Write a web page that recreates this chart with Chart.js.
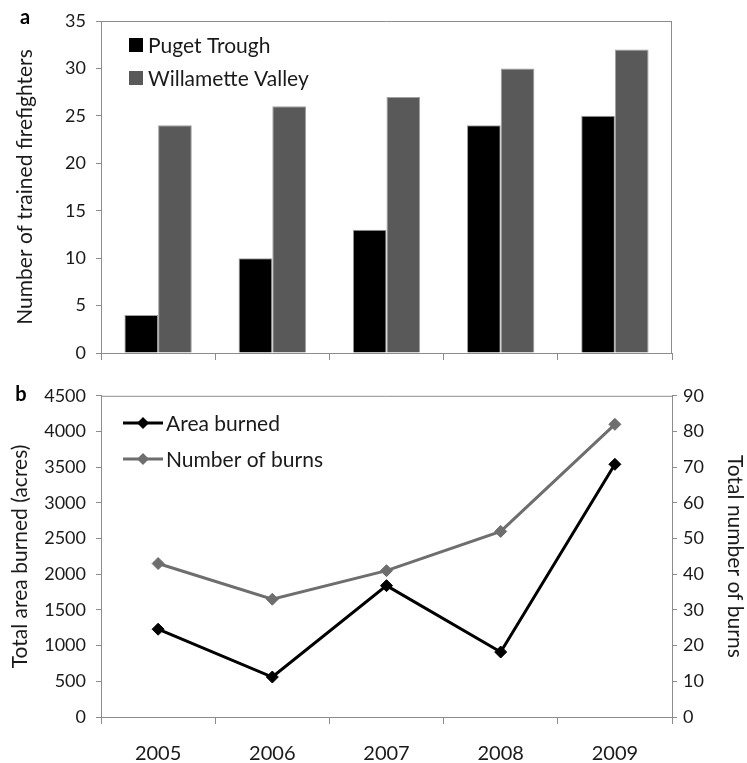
<!DOCTYPE html>
<html>
<head>
<meta charset="utf-8">
<script src="https://cdn.jsdelivr.net/npm/chart.js@4.4.1/dist/chart.umd.min.js"></script>
<style>
  html, body { margin: 0; padding: 0; background: #fff; }
  #wrapA { position: absolute; left: 0; top: 0; width: 747px; height: 375px; }
  #wrapB { position: absolute; left: 0; top: 375px; width: 747px; height: 388px; }
</style>
</head>
<body>
<div id="wrapA"><canvas id="chartA" width="747" height="375"></canvas></div>
<div id="wrapB"><canvas id="chartB" width="747" height="388"></canvas></div>
<script>
// ---- Data ----
const years = ['2005', '2006', '2007', '2008', '2009'];
const pugetTrough = [4, 10, 13, 24, 25];
const willametteValley = [24, 26, 27, 30, 32];
const areaBurned = [1230, 560, 1840, 910, 3540];
const numberOfBurns = [43, 33, 41, 52, 82];
const firefighterTicks = { min: 0, max: 35, step: 5 };
const areaTicks = { min: 0, max: 4500, step: 500 };
const burnsTicks = { min: 0, max: 90, step: 10 };

const FONT = 'Lato, "Open Sans", "Liberation Sans", sans-serif';
const AXIS = '#8c8c8c';
Chart.defaults.font.family = FONT;
Chart.defaults.color = '#1a1a1a';
Chart.defaults.animation = false;
Chart.defaults.devicePixelRatio = 1;

const plainNumber = (v) => String(v);

// Draws frame lines (top / right) and panel letter, plus custom legend
const decorPlugin = {
  id: 'decor',
  afterDatasetsDraw(chart, args, opts) {
    const ctx = chart.ctx;
    const a = chart.chartArea;
    ctx.save();
    ctx.strokeStyle = AXIS;
    ctx.lineWidth = 1;
    ctx.beginPath();
    ctx.moveTo(a.left, a.top + 0.5);
    ctx.lineTo(a.right, a.top + 0.5);
    if (opts.rightLine) {
      ctx.moveTo(a.right - 0.5, a.top);
      ctx.lineTo(a.right - 0.5, a.bottom);
    }
    ctx.stroke();
    // panel letter
    ctx.fillStyle = '#000';
    ctx.font = 'bold 20px ' + FONT;
    ctx.textAlign = 'center';
    ctx.textBaseline = 'middle';
    ctx.fillText(opts.letter, opts.letterX, opts.letterY);
    // legend
    ctx.font = '21px ' + FONT;
    ctx.textAlign = 'left';
    chart.data.datasets.forEach((ds, i) => {
      const y = opts.legY + i * opts.legGap;
      const x = opts.legX;
      if (opts.kind === 'box') {
        ctx.fillStyle = ds.backgroundColor;
        ctx.fillRect(x, y - 7, 14, 14);
        ctx.fillStyle = '#1a1a1a';
        ctx.fillText(ds.label, x + 19, y + 1);
      } else {
        ctx.strokeStyle = ds.borderColor;
        ctx.lineWidth = 3;
        ctx.beginPath();
        ctx.moveTo(x, y);
        ctx.lineTo(x + 40, y);
        ctx.stroke();
        ctx.fillStyle = ds.borderColor;
        ctx.beginPath();
        ctx.moveTo(x + 20, y - 6);
        ctx.lineTo(x + 26, y);
        ctx.lineTo(x + 20, y + 6);
        ctx.lineTo(x + 14, y);
        ctx.closePath();
        ctx.fill();
        ctx.fillStyle = '#1a1a1a';
        ctx.fillText(ds.label, x + 43, y + 1);
      }
    });
    ctx.restore();
  }
};

const tickFont = { size: 18, family: FONT };
const titleFont = { size: 21, family: FONT };

new Chart(document.getElementById('chartA'), {
  type: 'bar',
  data: {
    labels: years,
    datasets: [
      { label: 'Puget Trough', data: pugetTrough, backgroundColor: '#000000', borderColor: '#a0a0a0', borderWidth: 1 },
      { label: 'Willamette Valley', data: willametteValley, backgroundColor: '#595959', borderColor: '#a0a0a0', borderWidth: 1 }
    ]
  },
  options: {
    responsive: false,
    layout: { padding: { left: 0, right: 75, top: 21, bottom: 0 } },
    categoryPercentage: 0.59,
    barPercentage: 1.0,
    plugins: {
      legend: { display: false },
      tooltip: { enabled: false },
      decor: { rightLine: true, letter: 'a', letterX: 25, letterY: 18, kind: 'box', legX: 129, legY: 45, legGap: 33 }
    },
    scales: {
      x: {
        offset: true,
        grid: { offset: true, drawOnChartArea: false, tickLength: 7, color: AXIS },
        border: { color: AXIS },
        ticks: { display: false },
        afterFit(s) { s.height = 22; }
      },
      y: {
        min: firefighterTicks.min, max: firefighterTicks.max,
        ticks: { stepSize: firefighterTicks.step, font: tickFont, padding: 10, color: '#1a1a1a', callback: plainNumber },
        grid: { drawOnChartArea: false, tickLength: 5, color: AXIS },
        border: { color: AXIS },
        title: { display: true, text: 'Number of trained firefighters', font: titleFont, color: '#1a1a1a', padding: { top: 13, bottom: 0 } },
        afterFit(s) { s.width = 101; }
      }
    }
  },
  plugins: [decorPlugin]
});

new Chart(document.getElementById('chartB'), {
  type: 'line',
  data: {
    labels: years,
    datasets: [
      { label: 'Area burned', data: areaBurned, yAxisID: 'y', borderColor: '#000000', backgroundColor: '#000000', borderWidth: 3, pointStyle: 'rectRot', pointRadius: 6, pointBorderWidth: 1, tension: 0 },
      { label: 'Number of burns', data: numberOfBurns, yAxisID: 'y1', borderColor: '#6e6e6e', backgroundColor: '#6e6e6e', borderWidth: 3, pointStyle: 'rectRot', pointRadius: 6, pointBorderWidth: 1, tension: 0 }
    ]
  },
  options: {
    responsive: false,
    layout: { padding: { left: 0, right: 0, top: 17, bottom: 0 } },
    plugins: {
      legend: { display: false },
      tooltip: { enabled: false },
      decor: { rightLine: false, letter: 'b', letterX: 21, letterY: 20, kind: 'line', legX: 123, legY: 48, legGap: 36 }
    },
    scales: {
      x: {
        offset: true,
        grid: { offset: true, drawOnChartArea: false, tickLength: 7, color: AXIS },
        border: { color: AXIS },
        ticks: { font: { size: 20, family: FONT }, padding: 18, color: '#1a1a1a' },
        afterFit(s) { s.height = 46; }
      },
      y: {
        position: 'left',
        min: areaTicks.min, max: areaTicks.max,
        ticks: { stepSize: areaTicks.step, font: tickFont, padding: 10, color: '#1a1a1a', callback: plainNumber },
        grid: { drawOnChartArea: false, tickLength: 5, color: AXIS },
        border: { color: AXIS },
        title: { display: true, text: 'Total area burned (acres)', font: titleFont, color: '#1a1a1a', padding: { top: 8, bottom: 0 } },
        afterFit(s) { s.width = 101; }
      },
      y1: {
        position: 'right',
        min: burnsTicks.min, max: burnsTicks.max,
        ticks: { stepSize: burnsTicks.step, font: tickFont, padding: 6, color: '#1a1a1a', callback: plainNumber },
        grid: { drawOnChartArea: false, tickLength: 5, color: AXIS },
        border: { color: AXIS },
        title: { display: true, text: 'Total number of burns', font: titleFont, color: '#1a1a1a', padding: { top: 0, bottom: 0 } },
        afterFit(s) { s.width = 75; }
      }
    }
  },
  plugins: [decorPlugin]
});
</script>
</body>
</html>
